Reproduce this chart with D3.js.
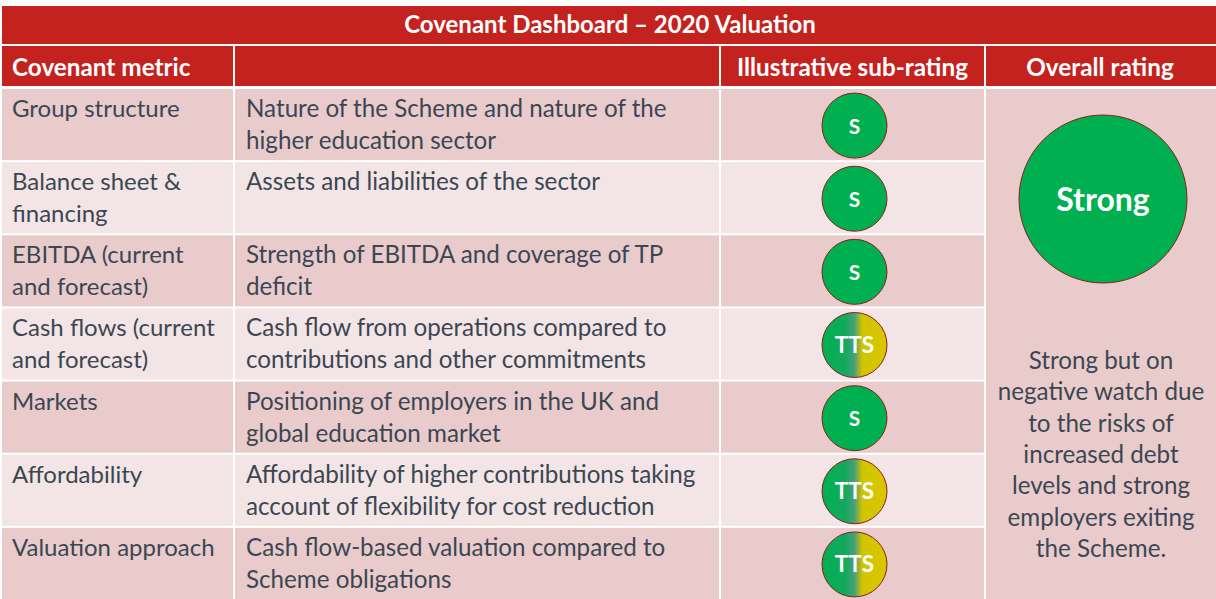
<!DOCTYPE html>
<html>
<head>
<meta charset="utf-8">
<script src="https://cdn.jsdelivr.net/npm/d3@7"></script>
<style>
  body { margin: 0; background: #fff; }
  svg text { font-family: Lato, "Open Sans", sans-serif; }
</style>
</head>
<body>
<svg id="chart" width="1216" height="599"></svg>
<script>
// table content
const title = "Covenant Dashboard \u2013 2020 Valuation";
const headers = ["Covenant metric", "", "Illustrative sub-rating", "Overall rating"];
const metrics = [
  ["Group structure"],
  ["Balance sheet &", "financing"],
  ["EBITDA (current", "and forecast)"],
  ["Cash flows (current", "and forecast)"],
  ["Markets"],
  ["Affordability"],
  ["Valuation approach"]
];
const descriptions = [
  ["Nature of the Scheme and nature of the", "higher education sector"],
  ["Assets and liabilities of the sector"],
  ["Strength of EBITDA and coverage of TP", "deficit"],
  ["Cash flow from operations compared to", "contributions and other commitments"],
  ["Positioning of employers in the UK and", "global education market"],
  ["Affordability of higher contributions taking", "account of flexibility for cost reduction"],
  ["Cash flow-based valuation compared to", "Scheme obligations"]
];
const subRatings = ["S", "S", "S", "TTS", "S", "TTS", "TTS"];
const overallRating = "Strong";
const overallNote = ["Strong but on", "negative watch due", "to the risks of",
  "increased debt", "levels and strong", "employers exiting", "the Scheme."];

const svg = d3.select("#chart");
const red = "#c4221f", textCol = "#3a4753", green = "#00b050";

// column edges
const colEdges = [2, 235, 721, 986, 1216];
const x = i => colEdges[i];
const colW = i => colEdges[i + 1] - colEdges[i] - 2;

// row scale for body
const y = d3.scaleBand().domain(d3.range(metrics.length)).range([89, 601]).paddingInner(0);
const rowH = y.bandwidth() - 2;

// gradient for TTS
const defs = svg.append("defs");
const grad = defs.append("linearGradient").attr("id", "tts");
[[0, "#00b050"], [0.36, "#12a95e"], [0.5, "#4a9f78"], [0.62, "#d2c500"], [1, "#d8c600"]]
  .forEach(s => grad.append("stop").attr("offset", s[0]).attr("stop-color", s[1]));

// title bar
svg.append("rect").attr("x", 2).attr("y", 6).attr("width", 1214).attr("height", 38).attr("fill", red);
svg.append("text").attr("x", 610).attr("y", 33).attr("text-anchor", "middle")
  .attr("fill", "#fff").attr("font-weight", "bold").attr("font-size", 24).text(title);

// header row
headers.forEach((h, i) => {
  svg.append("rect").attr("x", x(i)).attr("y", 46).attr("width", colW(i) + (i == 3 ? 2 : 0))
    .attr("height", 40).attr("fill", red);
  svg.append("text")
    .attr("x", i == 0 ? 12 : x(i) + colW(i) / 2)
    .attr("y", 76)
    .attr("text-anchor", i == 0 ? "start" : "middle")
    .attr("fill", "#fff").attr("font-weight", "bold").attr("font-size", 24.3)
    .text(h);
});

// body rows
const rows = svg.selectAll("g.row").data(metrics).join("g").attr("class", "row")
  .attr("transform", (d, i) => "translate(0," + y(i) + ")");

rows.each(function(d, i) {
  const g = d3.select(this);
  const fill = i % 2 == 0 ? "#eacbcc" : "#f3e5e5";
  [0, 1, 2].forEach(c => {
    g.append("rect").attr("x", x(c)).attr("width", colW(c)).attr("height", rowH).attr("fill", fill);
  });
  g.append("text").attr("x", 12).attr("fill", textCol).attr("font-size", 24)
    .selectAll("tspan").data(d).join("tspan")
    .attr("x", 12).attr("y", (t, k) => 28 + k * 32).text(t => t);
  g.append("text").attr("fill", textCol).attr("font-size", 24.2)
    .selectAll("tspan").data(descriptions[i]).join("tspan")
    .attr("x", 246).attr("y", (t, k) => 28 + k * 32).text(t => t);

  const cx = x(2) + colW(2) / 2 + 2, cy = rowH / 2 + 1;
  g.append("circle").attr("cx", cx).attr("cy", cy).attr("r", 32.5)
    .attr("fill", subRatings[i] == "S" ? green : "url(#tts)")
    .attr("stroke", "#8b1c1c").attr("stroke-width", 1);
  g.append("text").attr("x", cx).attr("y", cy + 8).attr("text-anchor", "middle")
    .attr("fill", "#fff").attr("font-weight", "bold")
    .attr("font-size", subRatings[i] == "S" ? 21 : 22.5).text(subRatings[i]);
});

// overall rating column
svg.append("rect").attr("x", x(3)).attr("y", 89).attr("width", 1216 - x(3)).attr("height", 510)
  .attr("fill", "#eacbcc");
svg.append("circle").attr("cx", 1103).attr("cy", 199).attr("r", 84)
  .attr("fill", green).attr("stroke", "#8b1c1c").attr("stroke-width", 1);
svg.append("text").attr("x", 1103).attr("y", 211).attr("text-anchor", "middle")
  .attr("fill", "#fff").attr("font-weight", "bold").attr("font-size", 32).text(overallRating);
svg.append("text").attr("fill", textCol).attr("font-size", 24.2).attr("text-anchor", "middle")
  .selectAll("tspan").data(overallNote).join("tspan")
  .attr("x", 1101).attr("y", (t, k) => 369 + k * 31.3).text(t => t);
</script>
</body>
</html>
